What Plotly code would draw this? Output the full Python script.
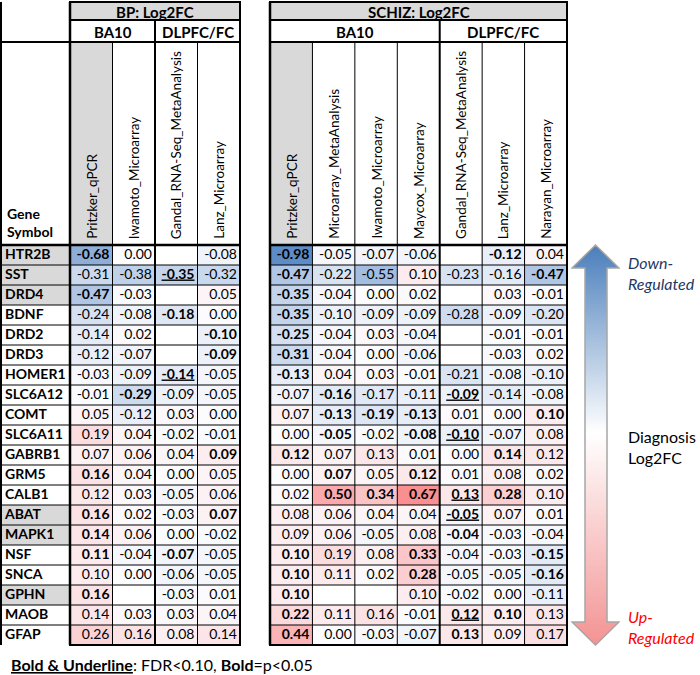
import plotly.graph_objects as go

W, H = 700, 675

genes = ["HTR2B", "SST", "DRD4", "BDNF", "DRD2", "DRD3", "HOMER1", "SLC6A12", "COMT",
         "SLC6A11", "GABRB1", "GRM5", "CALB1", "ABAT", "MAPK1", "NSF", "SNCA", "GPHN",
         "MAOB", "GFAP"]
highlighted_genes = ["HTR2B", "SST", "DRD4", "ABAT", "MAPK1", "GPHN"]

bp_title = "BP: Log2FC"
bp_columns = ["Pritzker_qPCR", "Iwamoto_Microarray", "Gandal_RNA-Seq_MetaAnalysis", "Lanz_Microarray"]
bp_groups = [("BA10", 2), ("DLPFC/FC", 2)]
bp_values = [
    [-0.68, 0.00, None, -0.08],
    [-0.31, -0.38, -0.35, -0.32],
    [-0.47, -0.03, None, 0.05],
    [-0.24, -0.08, -0.18, 0.00],
    [-0.14, 0.02, None, -0.10],
    [-0.12, -0.07, None, -0.09],
    [-0.03, -0.09, -0.14, -0.05],
    [-0.01, -0.29, -0.09, -0.05],
    [0.05, -0.12, 0.03, 0.00],
    [0.19, 0.04, -0.02, -0.01],
    [0.07, 0.06, 0.04, 0.09],
    [0.16, 0.04, 0.00, 0.05],
    [0.12, 0.03, -0.05, 0.06],
    [0.16, 0.02, -0.03, 0.07],
    [0.14, 0.06, 0.00, -0.02],
    [0.11, -0.04, -0.07, -0.05],
    [0.10, 0.00, -0.06, -0.05],
    [0.16, None, -0.03, 0.01],
    [0.14, 0.03, 0.03, 0.04],
    [0.26, 0.16, 0.08, 0.14],
]
# 0 = plain, 1 = bold (p<0.05), 2 = bold + underline (FDR<0.10)
bp_sig = [
    [1, 0, 0, 0], [0, 0, 2, 0], [1, 0, 0, 0], [0, 0, 1, 0], [0, 0, 0, 1],
    [0, 0, 0, 1], [0, 0, 2, 0], [0, 1, 0, 0], [0, 0, 0, 0], [0, 0, 0, 0],
    [0, 0, 0, 1], [1, 0, 0, 0], [0, 0, 0, 0], [1, 0, 0, 1], [1, 0, 0, 0],
    [1, 0, 1, 0], [0, 0, 0, 0], [1, 0, 0, 0], [0, 0, 0, 0], [0, 0, 0, 0],
]

schiz_title = "SCHIZ: Log2FC"
schiz_columns = ["Pritzker_qPCR", "Microarray_MetaAnalysis", "Iwamoto_Microarray", "Maycox_Microarray",
                 "Gandal_RNA-Seq_MetaAnalysis", "Lanz_Microarray", "Narayan_Microarray"]
schiz_groups = [("BA10", 4), ("DLPFC/FC", 3)]
schiz_values = [
    [-0.98, -0.05, -0.07, -0.06, None, -0.12, 0.04],
    [-0.47, -0.22, -0.55, 0.10, -0.23, -0.16, -0.47],
    [-0.35, -0.04, 0.00, 0.02, None, 0.03, -0.01],
    [-0.35, -0.10, -0.09, -0.09, -0.28, -0.09, -0.20],
    [-0.25, -0.04, 0.03, -0.04, None, -0.01, -0.01],
    [-0.31, -0.04, 0.00, -0.06, None, -0.03, 0.02],
    [-0.13, 0.04, 0.03, -0.01, -0.21, -0.08, -0.10],
    [-0.07, -0.16, -0.17, -0.11, -0.09, -0.14, -0.08],
    [0.07, -0.13, -0.19, -0.13, 0.01, 0.00, 0.10],
    [0.00, -0.05, -0.02, -0.08, -0.10, -0.07, 0.08],
    [0.12, 0.07, 0.13, 0.01, 0.00, 0.14, 0.12],
    [0.00, 0.07, 0.05, 0.12, 0.01, 0.08, 0.02],
    [0.02, 0.50, 0.34, 0.67, 0.13, 0.28, 0.10],
    [0.08, 0.06, 0.04, 0.04, -0.05, 0.07, 0.01],
    [0.09, 0.06, -0.05, 0.08, -0.04, -0.03, -0.04],
    [0.10, 0.19, 0.08, 0.33, -0.04, -0.03, -0.15],
    [0.10, 0.11, 0.02, 0.28, -0.05, -0.05, -0.16],
    [0.10, None, None, 0.10, -0.02, 0.00, -0.11],
    [0.22, 0.11, 0.16, -0.01, 0.12, 0.10, 0.13],
    [0.44, 0.00, -0.03, -0.07, 0.13, 0.09, 0.17],
]
schiz_sig = [
    [1, 0, 0, 0, 0, 1, 0], [1, 0, 0, 0, 0, 0, 1], [1, 0, 0, 0, 0, 0, 0], [1, 0, 0, 0, 0, 0, 0],
    [1, 0, 0, 0, 0, 0, 0], [1, 0, 0, 0, 0, 0, 0], [1, 0, 0, 0, 0, 0, 0], [0, 1, 0, 0, 2, 0, 0],
    [0, 1, 1, 1, 0, 0, 1], [0, 1, 0, 1, 2, 0, 0], [1, 0, 0, 0, 0, 1, 0], [0, 1, 0, 1, 0, 0, 0],
    [0, 1, 1, 1, 2, 1, 0], [0, 0, 0, 0, 2, 0, 0], [0, 0, 0, 0, 1, 0, 0], [1, 0, 0, 1, 0, 0, 1],
    [1, 0, 0, 1, 0, 0, 1], [1, 0, 0, 0, 0, 0, 0], [1, 0, 0, 0, 2, 1, 0], [1, 0, 0, 0, 1, 0, 0],
]

legend_note = "<b><u>Bold &amp; Underline</u></b>: FDR&lt;0.10, <b>Bold</b>=p&lt;0.05"

# ---------------- styling / layout constants ----------------
FONT = "Lato"
GRAY = "#d9d9d9"
ZMIN, ZMAX = -1.0, 0.9
mid = (0 - ZMIN) / (ZMAX - ZMIN)
CELL_SCALE = [[0, "#5a8ac6"], [mid, "#fcfcff"], [1, "#f8696b"]]

TOP, H1, H2, HDR = 2, 20, 42, 245
ROW_H = 20
NR = len(genes)
BOTTOM = HDR + ROW_H * NR
GENE_X0, GENE_X1 = 1, 70
L_X0, L_X1 = 70, 240
R_X0, R_X1 = 270, 567


def X(p):
    return p / W


def Y(p):
    return 1 - p / H


shapes, annotations, traces = [], [], []


def hline(x0, x1, y, w=1):
    shapes.append(dict(type="line", xref="paper", yref="paper", x0=X(x0), x1=X(x1),
                       y0=Y(y), y1=Y(y), line=dict(color="black", width=w), layer="above"))


def vline(x, y0, y1, w=1):
    shapes.append(dict(type="line", xref="paper", yref="paper", x0=X(x), x1=X(x),
                       y0=Y(y0), y1=Y(y1), line=dict(color="black", width=w), layer="above"))


def rect(x0, x1, y0, y1, color):
    shapes.append(dict(type="rect", xref="paper", yref="paper", x0=X(x0), x1=X(x1),
                       y0=Y(y0), y1=Y(y1), line=dict(width=0), fillcolor=color, layer="below"))


def fmt(v, s):
    if v is None:
        return ""
    t = f"{v:.2f}"
    if s == 2:
        return f"<b><u>{t}</u></b>"
    if s == 1:
        return f"<b>{t}</b>"
    return t


def build_table(xa, x0, x1, title, columns, groups, values, sig):
    nc = len(columns)
    cw = (x1 - x0) / nc
    traces.append(go.Heatmap(z=values, x=list(range(nc)), y=list(range(NR)), xaxis=xa, yaxis="y",
                             colorscale=CELL_SCALE, zmin=ZMIN, zmax=ZMAX, showscale=False,
                             hoverinfo="skip"))
    tx, ty, tt = [], [], []
    for r in range(NR):
        for c in range(nc):
            tx.append(c + 0.5 - 3.0 / cw)
            ty.append(r)
            tt.append(fmt(values[r][c], sig[r][c]))
    traces.append(go.Scatter(x=tx, y=ty, text=tt, mode="text", textposition="middle left",
                             xaxis=xa, yaxis="y", textfont=dict(family=FONT, size=14, color="black"),
                             hoverinfo="skip", showlegend=False, cliponaxis=False))
    rect(x0, x1, TOP, H1, GRAY)
    rect(x0, x0 + cw, H2, HDR, GRAY)
    annotations.append(dict(xref="paper", yref="paper", x=X((x0 + x1) / 2), y=Y((TOP + H1) / 2 + 1),
                            text=f"<b>{title}</b>", showarrow=False, xanchor="center", yanchor="middle",
                            font=dict(family=FONT, size=15, color="black")))
    ci = 0
    for gname, gn in groups:
        gx0 = x0 + ci * cw
        gx1 = x0 + (ci + gn) * cw
        annotations.append(dict(xref="paper", yref="paper", x=X((gx0 + gx1) / 2), y=Y((H1 + H2) / 2 + 1),
                                text=f"<b>{gname}</b>", showarrow=False, xanchor="center", yanchor="middle",
                                font=dict(family=FONT, size=15, color="black")))
        if ci > 0:
            vline(gx0, H1, BOTTOM, 2)
        ci += gn
    for c, name in enumerate(columns):
        annotations.append(dict(xref=xa, yref="paper", x=c, y=Y(HDR - 4), text=name, textangle=-90,
                                showarrow=False, xanchor="center", yanchor="bottom",
                                font=dict(family=FONT, size=13.5, color="black")))
    bounds = set()
    ci = 0
    for _, gn in groups:
        ci += gn
        bounds.add(ci)
    for c in range(1, nc):
        if c not in bounds:
            vline(x0 + c * cw, H2, BOTTOM, 1)
    for r in range(1, NR):
        hline(x0, x1, HDR + r * ROW_H, 1)
    hline(x0, x1, H1, 2)
    hline(x0, x1, H2, 2)
    hline(x0, x1, HDR, 2.5)
    hline(x0 - 1, x1 + 1, TOP, 2)
    hline(x0 - 1, x1 + 1, BOTTOM, 2)
    vline(x0, TOP, BOTTOM, 2.5)
    vline(x1, TOP, BOTTOM, 2)


# gene column
traces.append(go.Heatmap(z=[[1 if g in highlighted_genes else 0] for g in genes], x=[0], y=list(range(NR)),
                         xaxis="x3", yaxis="y", colorscale=[[0, "#ffffff"], [1, GRAY]], zmin=0, zmax=1,
                         showscale=False, hoverinfo="skip"))
traces.append(go.Scatter(x=[-0.5 + 4 / (GENE_X1 - GENE_X0)] * NR, y=list(range(NR)),
                         text=[f"<b>{g}</b>" for g in genes], mode="text", textposition="middle right",
                         xaxis="x3", yaxis="y", textfont=dict(family=FONT, size=14, color="black"),
                         hoverinfo="skip", showlegend=False, cliponaxis=False))
annotations.append(dict(xref="paper", yref="paper", x=X(GENE_X0 + 4), y=Y(HDR - 3),
                        text="<b>Gene<br>Symbol</b>", showarrow=False, xanchor="left", yanchor="bottom",
                        align="left", font=dict(family=FONT, size=14, color="black")))
for r in range(1, NR):
    hline(GENE_X0, GENE_X1, HDR + r * ROW_H, 1)
hline(GENE_X0, GENE_X1, H2, 2)
hline(GENE_X0, GENE_X1, HDR, 2.5)
vline(GENE_X0, TOP, BOTTOM, 2)

build_table("x", L_X0, L_X1, bp_title, bp_columns, bp_groups, bp_values, bp_sig)
build_table("x2", R_X0, R_X1, schiz_title, schiz_columns, schiz_groups, schiz_values, schiz_sig)

# ---------------- gradient arrow ----------------
AX0, AX1, AY0, AY1 = 571, 620, 244, 646
cx = 595.5
arrow_poly = [(cx, 245), (619, 268), (607, 268), (607, 622), (619, 622), (cx, 645),
              (572, 622), (585, 622), (585, 268), (572, 268)]


def inside(px, py, poly):
    res = False
    n = len(poly)
    j = n - 1
    for i in range(n):
        xi, yi = poly[i]
        xj, yj = poly[j]
        if (yi > py) != (yj > py):
            xint = xi + (py - yi) * (xj - xi) / (yj - yi)
            if px < xint:
                res = not res
        j = i
    return res


axs = [AX0 + 0.5 + i for i in range(AX1 - AX0)]
ays = [AY0 + 0.5 + j for j in range(AY1 - AY0)]
az = [[((yy - 245) / 400 if inside(xx, yy, arrow_poly) else None) for xx in axs] for yy in ays]
traces.append(go.Heatmap(z=az, x=axs, y=ays, xaxis="x4", yaxis="y2",
                         colorscale=[[0, "#4a7ebb"], [0.47, "#ffffff"], [1, "#f39393"]],
                         zmin=0, zmax=1, showscale=False, hoverinfo="skip"))
path = "M " + " L ".join(f"{px},{py}" for px, py in arrow_poly) + " Z"
shapes.append(dict(type="path", xref="x4", yref="y2", path=path,
                   line=dict(color="#a6a6a6", width=1.5), fillcolor="rgba(0,0,0,0)", layer="above"))

annotations += [
    dict(xref="paper", yref="paper", x=X(626), y=Y(273), text="<i>Down-<br>Regulated</i>", showarrow=False,
         xanchor="left", yanchor="middle", align="left", font=dict(family=FONT, size=16, color="#1f3864")),
    dict(xref="paper", yref="paper", x=X(626), y=Y(447), text="Diagnosis<br>Log2FC", showarrow=False,
         xanchor="left", yanchor="middle", align="left", font=dict(family=FONT, size=16, color="black")),
    dict(xref="paper", yref="paper", x=X(626), y=Y(627), text="<i>Up-<br>Regulated</i>", showarrow=False,
         xanchor="left", yanchor="middle", align="left", font=dict(family=FONT, size=16, color="#ff0000")),
    dict(xref="paper", yref="paper", x=X(9), y=Y(664), text=legend_note, showarrow=False,
         xanchor="left", yanchor="middle", font=dict(family=FONT, size=16, color="black")),
]

fig = go.Figure(traces)
ax_common = dict(visible=False, fixedrange=True, showgrid=False, zeroline=False)
fig.update_layout(
    width=W, height=H, margin=dict(l=0, r=0, t=0, b=0, pad=0),
    paper_bgcolor="white", plot_bgcolor="white", showlegend=False,
    font=dict(family=FONT, color="black"),
    xaxis=dict(domain=[X(L_X0), X(L_X1)], range=[-0.5, len(bp_columns) - 0.5], anchor="y", **ax_common),
    xaxis2=dict(domain=[X(R_X0), X(R_X1)], range=[-0.5, len(schiz_columns) - 0.5], anchor="y", **ax_common),
    xaxis3=dict(domain=[X(GENE_X0), X(GENE_X1)], range=[-0.5, 0.5], anchor="y", **ax_common),
    yaxis=dict(domain=[Y(BOTTOM), Y(HDR)], range=[NR - 0.5, -0.5], anchor="x", **ax_common),
    xaxis4=dict(domain=[X(AX0), X(AX1)], range=[AX0, AX1], anchor="y2", **ax_common),
    yaxis2=dict(domain=[Y(AY1), Y(AY0)], range=[AY1, AY0], anchor="x4", **ax_common),
    shapes=shapes, annotations=annotations,
)
fig.write_html("out.html", config={"displayModeBar": False},
               post_script="document.body.style.margin='0px';document.body.style.overflow='hidden';")
